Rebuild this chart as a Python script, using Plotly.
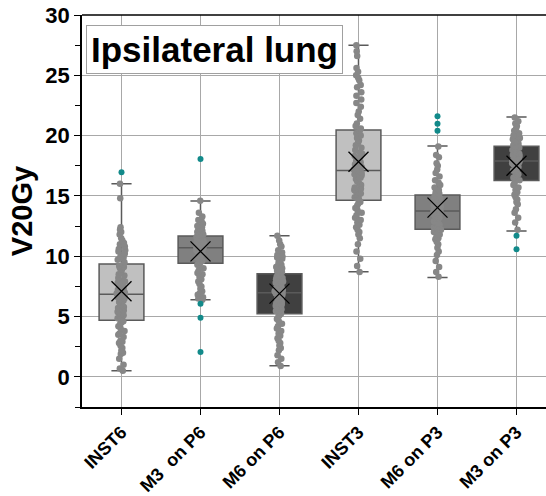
import plotly.graph_objects as go

categories = ["INST6", "M3\u00a0 on P6", "M6 on P6", "INST3", "M6 on P3", "M3 on P3"]

# box statistics
q1 = [4.7, 9.42, 5.24, 14.64, 12.24, 16.27]
median = [6.85, 10.7, 6.97, 17.1, 13.75, 17.9]
q3 = [9.36, 11.68, 8.55, 20.46, 15.08, 19.11]
lower_whisker = [0.5, 6.4, 0.91, 8.72, 8.23, 12.1]
upper_whisker = [16.0, 14.58, 11.7, 27.5, 19.14, 21.55]
mean = [7.1, 10.4, 6.9, 17.84, 14.03, 17.5]

# outliers (teal)
out_inst6 = [16.96]
out_m3p6 = [18.06, 6.07, 4.89, 2.05]
out_m6p6 = []
out_inst3 = []
out_m6p3 = [21.6, 20.99, 20.4]
out_m3p3 = [11.7, 10.58]

# individual sample points (gray)
pts_inst6 = [16.0, 14.8, 12.4, 12.2, 12.0, 11.8, 11.5, 11.3, 11.1, 11.0, 10.8, 10.6, 10.5,
             10.4, 10.2, 10.1, 10.0, 9.9, 9.8, 9.7, 9.5,
             9.3, 9.2, 9.1, 9.0, 8.9, 8.7, 8.5, 8.4, 8.2, 8.0, 7.9, 7.8, 7.6, 7.5, 7.4, 7.3,
             7.2, 7.1, 7.0, 6.95, 6.9, 6.9,
             6.8, 6.7, 6.6, 6.5, 6.4, 6.3, 6.2, 6.0, 5.9, 5.8, 5.7, 5.5, 5.4, 5.3, 5.2, 5.1,
             5.0, 4.9, 4.85, 4.8, 4.75,
             4.6, 4.5, 4.4, 4.2, 4.0, 3.8, 3.6, 3.5, 3.3, 3.0, 2.9, 2.8, 2.6, 2.4, 2.2, 2.0,
             1.9, 1.5, 1.0, 0.7, 0.5]
pts_m3p6 = [14.6, 13.6, 13.3, 13.0, 12.9, 12.7, 12.5, 12.4, 12.3, 12.2, 12.1, 12.0, 11.9, 11.8, 11.7,
            11.6, 11.5, 11.4, 11.3, 11.2, 11.1, 11.0, 10.95, 10.9, 10.85, 10.8, 10.75, 10.7,
            10.6, 10.5, 10.4, 10.3, 10.2, 10.1, 10.0, 9.9, 9.8, 9.7, 9.6, 9.5, 9.45,
            9.3, 9.1, 9.0, 8.8, 8.6, 8.5, 8.3, 8.1, 7.9, 7.7, 7.5, 7.3, 7.1, 6.9, 6.8, 6.6, 6.5, 6.4]
pts_m6p6 = [11.7, 11.3, 11.0, 10.8, 10.5, 10.3, 10.1, 10.0, 9.9, 9.8, 9.6, 9.5, 9.3, 9.2, 9.1,
            9.0, 8.9, 8.8, 8.7, 8.6,
            8.5, 8.4, 8.3, 8.2, 8.1, 8.0, 7.9, 7.8, 7.7, 7.6, 7.5, 7.4, 7.35, 7.3, 7.2, 7.15,
            7.1, 7.05, 7.0, 6.98,
            6.9, 6.8, 6.7, 6.6, 6.5, 6.4, 6.3, 6.2, 6.1, 6.0, 5.9, 5.8, 5.7, 5.6, 5.55, 5.5,
            5.45, 5.4, 5.3, 5.25,
            5.1, 5.0, 4.8, 4.6, 4.4, 4.2, 4.0, 3.8, 3.6, 3.4, 3.2, 3.0, 2.8, 2.6, 2.4, 2.2,
            1.8, 1.5, 1.2, 0.9]
pts_inst3 = [27.5, 27.0, 26.6, 25.6, 25.3, 25.0, 24.8, 24.6, 24.2, 24.0, 23.6, 23.3, 23.0, 22.7,
             22.4, 22.0, 21.7, 21.4, 21.0, 20.8, 20.6,
             20.4, 20.2, 20.0, 19.8, 19.6, 19.4, 19.2, 19.0, 18.8, 18.6, 18.5, 18.3, 18.2, 18.0,
             17.9, 17.8, 17.6, 17.5, 17.4, 17.3, 17.2, 17.1,
             17.0, 16.9, 16.8, 16.7, 16.6, 16.5, 16.4, 16.2, 16.0, 15.9, 15.7, 15.6, 15.5, 15.4,
             15.3, 15.2, 15.1, 15.0, 14.9, 14.8, 14.7,
             14.5, 14.4, 14.2, 14.0, 13.8, 13.6, 13.4, 13.2, 13.0, 12.8, 12.6, 12.4, 12.2, 12.0,
             11.8, 11.5, 11.0, 10.4, 9.8, 9.2, 8.7]
pts_m6p3 = [19.1, 18.4, 18.2, 17.7, 17.5, 17.2, 16.9, 16.6, 16.3, 16.1, 15.9, 15.7, 15.5, 15.4, 15.3, 15.2,
            15.0, 14.9, 14.8, 14.7, 14.6, 14.5, 14.4, 14.3, 14.2, 14.1, 14.0, 13.95, 13.9, 13.85,
            13.8, 13.75,
            13.7, 13.6, 13.5, 13.4, 13.3, 13.2, 13.1, 13.0, 12.9, 12.8, 12.7, 12.6, 12.5, 12.45,
            12.4, 12.3,
            12.2, 12.1, 12.0, 11.8, 11.6, 11.5, 11.4, 11.2, 11.0, 10.7, 10.4, 10.1, 9.6, 9.1, 8.7, 8.3]
pts_m3p3 = [21.5, 21.2, 21.0, 20.8, 20.6, 20.4, 20.2, 20.0, 19.9, 19.8, 19.7, 19.6, 19.5, 19.4, 19.3, 19.2,
            19.1, 19.0, 18.9, 18.8, 18.7, 18.6, 18.5, 18.4, 18.3, 18.2, 18.1, 18.05, 18.0, 17.95,
            17.92, 17.9,
            17.8, 17.7, 17.6, 17.5, 17.4, 17.3, 17.2, 17.1, 17.0, 16.9, 16.8, 16.7, 16.6, 16.5,
            16.4, 16.3,
            16.1, 15.9, 15.7, 15.5, 15.3, 15.1, 14.9, 14.7, 14.5, 14.3, 13.9, 13.6, 13.2, 12.8, 12.2]

points = [pts_inst6, pts_m3p6, pts_m6p6, pts_inst3, pts_m6p3, pts_m3p3]
outliers = [out_inst6, out_m3p6, out_m6p6, out_inst3, out_m6p3, out_m3p3]
box_fill = ["#c0c0c0", "#808080", "#404040", "#c0c0c0", "#808080", "#404040"]

BOX_W = 0.567
fig = go.Figure()

for i, c in enumerate(categories):
    fig.add_trace(go.Box(
        x=[c], q1=[q1[i]], median=[median[i]], q3=[q3[i]],
        lowerfence=[lower_whisker[i]], upperfence=[upper_whisker[i]],
        width=BOX_W, whiskerwidth=0.45, fillcolor=box_fill[i],
        line=dict(color="#5a5a5a", width=1.5), boxpoints=False,
        showlegend=False, hoverinfo="skip"))

for i, c in enumerate(categories):
    fig.add_trace(go.Box(
        x=[c] * len(points[i]), y=points[i], width=BOX_W,
        boxpoints="all", jitter=0.22, pointpos=0,
        fillcolor="rgba(0,0,0,0)", line=dict(color="rgba(0,0,0,0)", width=0),
        marker=dict(color="#878787", size=6.5),
        showlegend=False, hoverinfo="skip"))

ox, oy = [], []
for i, c in enumerate(categories):
    ox += [c] * len(outliers[i])
    oy += outliers[i]
fig.add_trace(go.Scatter(x=ox, y=oy, mode="markers",
                         marker=dict(color="#128a8a", size=6), showlegend=False, hoverinfo="skip"))

fig.add_trace(go.Scatter(x=categories, y=mean, mode="markers",
                         marker=dict(symbol="x-thin", size=20, line=dict(color="black", width=1.3)),
                         showlegend=False, hoverinfo="skip"))

fig.add_annotation(text="<b>Ipsilateral lung</b>", xref="x", yref="paper",
                   x=1.18, y=0.9127, xanchor="center", yanchor="middle", showarrow=False,
                   font=dict(family="Liberation Sans, Arial, sans-serif", size=35, color="black"),
                   bgcolor="white", bordercolor="#a0a0a0", borderwidth=1, borderpad=4)

# top frame line
fig.add_shape(type="line", xref="paper", yref="paper", x0=0, x1=1, y0=1, y1=1,
              line=dict(color="black", width=1.5))

fig.update_layout(
    width=556, height=496,
    margin=dict(l=82, r=0, t=15, b=89),
    plot_bgcolor="white", paper_bgcolor="white",
    boxmode="overlay",
    font=dict(family="Liberation Sans, Arial, sans-serif", color="black"),
)
fig.update_xaxes(
    type="category", categoryorder="array", categoryarray=categories,
    range=[-0.5, 5.5], showline=True, linecolor="black", linewidth=1.5, mirror=False,
    showgrid=True, gridcolor="#a8a8a8", gridwidth=1, automargin=False,
    ticks="outside", ticklen=6, tickcolor="black", tickangle=-45,
    tickfont=dict(size=18, weight="bold"))
fig.update_yaxes(
    range=[-2.5, 30], tickvals=[0, 5, 10, 15, 20, 25, 30],
    showline=True, linecolor="black", linewidth=1.5, mirror=False, automargin=False,
    showgrid=True, gridcolor="#a8a8a8", gridwidth=1, zeroline=False,
    ticks="outside", ticklen=6, tickcolor="black",
    minor=dict(dtick=2.5, tick0=0, ticklen=5, tickcolor="black", ticks="outside", showgrid=False),
    tickfont=dict(size=22, weight="bold"),
    title=dict(text="<b>V20Gy</b>", font=dict(size=29), standoff=4))

fig.write_html("out.html", config={"displayModeBar": False},
               post_script="document.body.style.margin='0px';document.body.style.overflow='hidden';document.documentElement.style.overflow='hidden';")
